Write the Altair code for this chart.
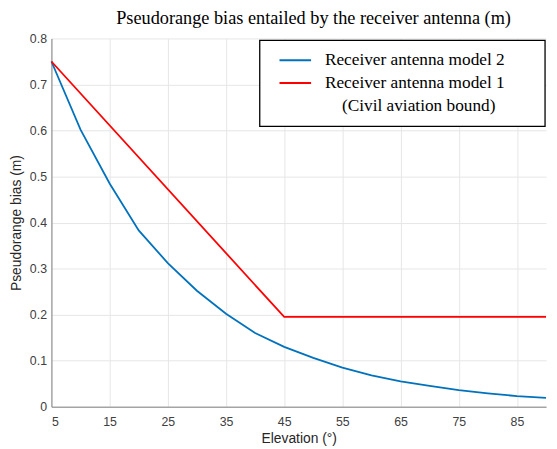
import altair as alt
import pandas as pd

elev_m2 = [5, 10, 15, 20, 25, 30, 35, 40, 45, 50, 55, 60, 65, 70, 75, 80, 85, 90]
bias_m2 = [0.75, 0.602, 0.485, 0.383, 0.312, 0.252, 0.202, 0.160, 0.130, 0.106,
           0.085, 0.068, 0.055, 0.045, 0.036, 0.029, 0.023, 0.019]
elev_m1 = [5, 45, 90]
bias_m1 = [0.75, 0.195, 0.195]

series_names = ["Receiver antenna model 2", "Receiver antenna model 1"]
series_colors = ["#0072BD", "#FF0000"]

x_ticks = [5, 15, 25, 35, 45, 55, 65, 75, 85]
y_ticks = [0, 0.1, 0.2, 0.3, 0.4, 0.5, 0.6, 0.7, 0.8]

df = pd.concat([
    pd.DataFrame({"elev": elev_m2, "bias": bias_m2, "series": series_names[0]}),
    pd.DataFrame({"elev": elev_m1, "bias": bias_m1, "series": series_names[1]}),
])

W, H = 501, 373
sans = "Liberation Sans"
serif = "Liberation Serif"

lines = alt.Chart(df).mark_line(strokeWidth=1.8).encode(
    x=alt.X("elev:Q", scale=alt.Scale(domain=[5, 90], nice=False, zero=False),
            axis=alt.Axis(values=x_ticks, title="Elevation (°)", grid=True, labelPadding=9)),
    y=alt.Y("bias:Q", scale=alt.Scale(domain=[0, 0.8], nice=False),
            axis=alt.Axis(values=y_ticks, format="~g", title="Pseudorange bias (m)", grid=True, labelPadding=5)),
    color=alt.Color("series:N", scale=alt.Scale(domain=series_names, range=series_colors), legend=None),
    detail="series:N",
)

one = pd.DataFrame({"k": [0]})
box = alt.Chart(one).mark_rect(fill="white", stroke="black", strokeWidth=1.3).encode(
    x=alt.value(211), x2=alt.value(500), y=alt.value(2), y2=alt.value(89))

sw_blue = alt.Chart(one).mark_rule(color=series_colors[0], strokeWidth=2).encode(
    x=alt.value(231), x2=alt.value(263), y=alt.value(22))
sw_red = alt.Chart(one).mark_rule(color=series_colors[1], strokeWidth=2).encode(
    x=alt.value(231), x2=alt.value(263), y=alt.value(45))

FS = 17.5
t1 = alt.Chart(one).mark_text(align="left", baseline="middle", font=serif, fontSize=FS, color="black").encode(
    x=alt.value(277), y=alt.value(22), text=alt.value(series_names[0]))
t2 = alt.Chart(one).mark_text(align="left", baseline="middle", font=serif, fontSize=FS, color="black").encode(
    x=alt.value(277), y=alt.value(45), text=alt.value(series_names[1]))
t3 = alt.Chart(one).mark_text(align="center", baseline="middle", font=serif, fontSize=FS, color="black").encode(
    x=alt.value(372), y=alt.value(68), text=alt.value("(Civil aviation bound)"))

chart = alt.layer(lines, box, sw_blue, sw_red, t1, t2, t3).properties(
    width=W, height=H,
    title=alt.TitleParams("Pseudorange bias entailed by the receiver antenna (m)",
                          font=serif, fontSize=18.5, fontWeight="normal", color="black",
                          anchor="middle", dx=15, offset=5),
    autosize=alt.AutoSizeParams(type="none"),
    padding={"left": 44, "top": 28, "right": 3, "bottom": 41},
).configure_view(stroke=None).configure_axis(
    labelFont=sans, labelFontSize=12.5, labelColor="#404040",
    titleFont=sans, titleFontSize=14, titleColor="#262626", titleFontWeight="normal",
    domainColor="#808080", domainWidth=1, gridColor="#e6e6e6", gridWidth=1,
    ticks=False,
).configure_axisX(titlePadding=4).configure_axisY(titlePadding=6)

chart.save("out.html", embed_options={"renderer": "svg", "actions": False})
